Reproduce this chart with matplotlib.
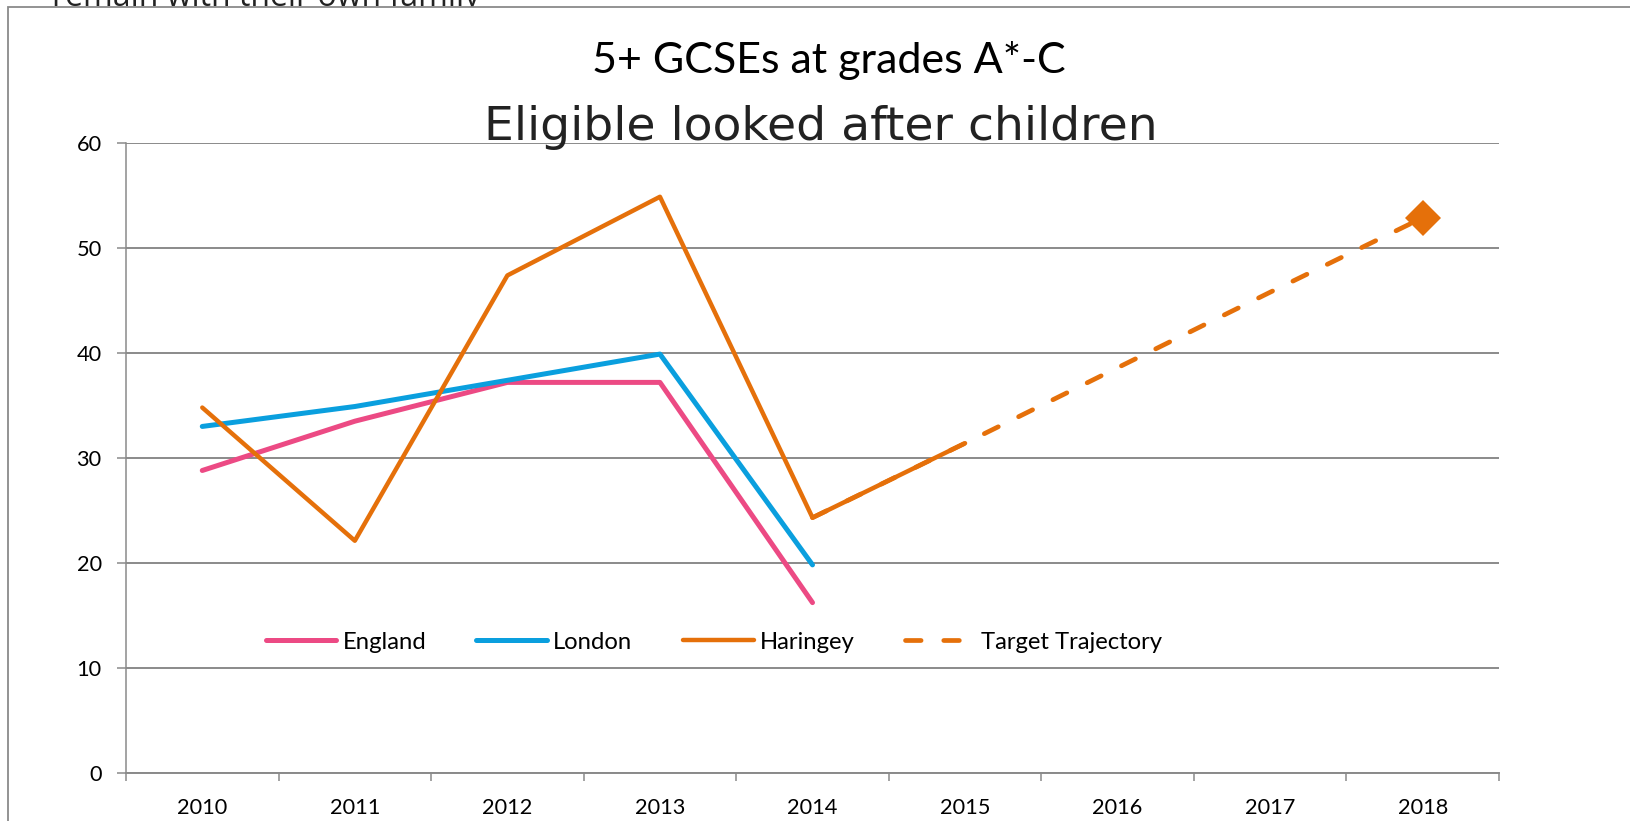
import matplotlib.pyplot as plt
from matplotlib.patches import Rectangle

W, H = 1631, 821
DPI = 100

anios = ["2010", "2011", "2012", "2013", "2014", "2015", "2016", "2017", "2018"]
england = [28.8, 33.5, 37.2, 37.2, 16.2]
london = [33.0, 34.9, 37.4, 39.9, 19.8]
haringey = [34.8, 22.1, 47.4, 54.9, 24.3, 31.4]
objetivo = [24.3, 31.4, 38.6, 45.8, 52.9]   # 2014 -> 2018
y_ticks = [0, 10, 20, 30, 40, 50, 60]

ROSA = "#EC4A84"
AZUL = "#0A9FDE"
NARANJA = "#E5700A"
GRIS = "#8a8a8a"


def px_x(x):
    return x / W


def px_y(y):
    return 1 - y / H


fig = plt.figure(figsize=(W / DPI, H / DPI), dpi=DPI)

# texto cortado arriba (pertenece a la página, no al gráfico)
fig.text(px_x(52), px_y(6), "remain with their own family", fontsize=23,
         family="Open Sans", color="#222222", va="baseline", zorder=-2)
# marco del área del gráfico
fig.patches.append(Rectangle((px_x(8), -0.1), 1.2, px_y(7) + 0.1, transform=fig.transFigure,
                             facecolor="white", edgecolor=GRIS, linewidth=1.3, zorder=-1))

ax = fig.add_axes([px_x(126), 1 - 772.5 / H, (1499 - 126) / W, (772.5 - 143.3) / H])
ax.set_facecolor("none")

idx = list(range(len(anios)))
ax.plot(idx[:len(england)], england, color=ROSA, linewidth=3.6, solid_capstyle="round",
        label="England", zorder=3)
ax.plot(idx[:len(london)], london, color=AZUL, linewidth=3.6, solid_capstyle="round",
        label="London", zorder=3)
ax.plot(idx[:len(haringey)], haringey, color=NARANJA, linewidth=3.2, solid_capstyle="round",
        label="Haringey", zorder=3)
ax.plot(idx[4:4 + len(objetivo)], objetivo, color=NARANJA, linewidth=3.4,
        dashes=(3.3, 4.8), dash_capstyle="round", label="Target Trajectory", zorder=4)
ax.plot(idx[4 + len(objetivo) - 1], objetivo[-1], marker="D", markersize=18,
        color=NARANJA, markeredgewidth=0, linestyle="none", zorder=5)

ax.set_xlim(-0.5, len(anios) - 0.5)
ax.set_ylim(0, 60)
ax.set_yticks(y_ticks)
ax.set_xticks(idx)
ax.set_xticklabels(anios)
ax.set_xticks([i - 0.5 for i in range(len(anios) + 1)], minor=True)
ax.tick_params(axis="x", which="major", length=0, pad=18.5, labelsize=15.7)
ax.tick_params(axis="x", which="minor", length=5.5, width=1.1, color=GRIS)
ax.tick_params(axis="y", length=6.5, width=1.1, color=GRIS, pad=11, labelsize=15.7)
for lab in ax.get_xticklabels() + ax.get_yticklabels():
    lab.set_family("Lato")

ax.grid(axis="y", color=GRIS, linewidth=1.4)
ax.set_axisbelow(True)
for lado in ["top", "right"]:
    ax.spines[lado].set_visible(False)
ax.spines["left"].set_color(GRIS)
ax.spines["left"].set_linewidth(1.1)
ax.spines["bottom"].set_color(GRIS)
ax.spines["bottom"].set_linewidth(1.4)

# títulos
fig.text(px_x(829), px_y(73), "5+ GCSEs at grades A*-C", fontsize=31, family="Lato",
         ha="center", va="baseline")
fig.text(px_x(821), px_y(140), "Eligible looked after children", fontsize=34,
         family="DejaVu Sans", ha="center", va="baseline", color="#222222")

fig.legend(loc="center", bbox_to_anchor=(px_x(714), px_y(642)), ncol=4, frameon=False,
           prop={"family": "Lato", "size": 17.2}, handlelength=2.97, handletextpad=0.25,
           columnspacing=2.1)

fig.savefig("out.png", dpi=DPI)
